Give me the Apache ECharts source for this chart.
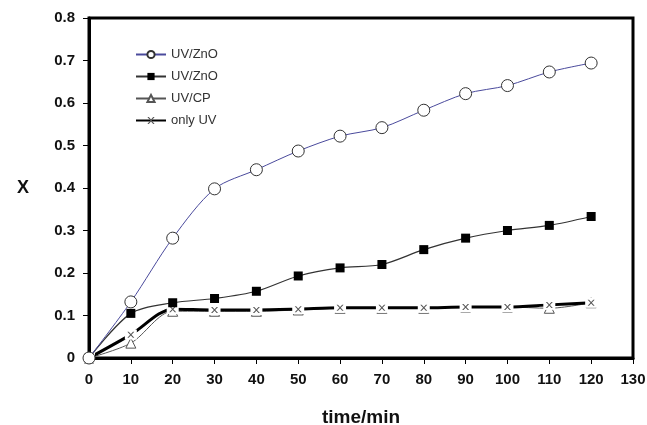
<!DOCTYPE html>
<html lang="en">
<head>
    <meta charset="UTF-8">
    <title>X vs time</title>
    <script src="https://cdn.jsdelivr.net/npm/echarts@6.0.0/dist/echarts.min.js"></script>
</head>
<body style="margin:0;background:#fff;">
    <div id="main" style="width:647px;height:425px;"></div>
    <script type="text/javascript">
        // data
        const times = [0, 10, 20, 30, 40, 50, 60, 70, 80, 90, 100, 110, 120];
        const uvZnoOpen = [0, 0.132, 0.282, 0.398, 0.443, 0.487, 0.522, 0.542, 0.583, 0.622, 0.641, 0.673, 0.694];
        const uvZnoFilled = [0, 0.105, 0.130, 0.140, 0.157, 0.193, 0.212, 0.220, 0.255, 0.282, 0.300, 0.312, 0.333];
        const uvCp = [0, 0.035, 0.110, 0.110, 0.110, 0.113, 0.117, 0.117, 0.117, 0.120, 0.120, 0.117, 0.130];
        const onlyUv = [0, 0.055, 0.115, 0.113, 0.113, 0.115, 0.118, 0.118, 0.118, 0.120, 0.120, 0.125, 0.130];
        const yTicks = [0, 0.1, 0.2, 0.3, 0.4, 0.5, 0.6, 0.7, 0.8];

        const pairs = (ys) => times.map((t, i) => [t, ys[i]]);
        const crossPath = 'path://M0,0L2,0L5,3L8,0L10,0L6,4L10,8L8,8L5,5L2,8L0,8L4,4Z';
        const font = 'Liberation Sans, Arial, sans-serif';

        let options = {
            animation: false,
            backgroundColor: '#fff',
            grid: {
                left: 89, right: 14, top: 18, bottom: 67, outerBoundsMode: 'none',
                show: true, borderColor: '#000', borderWidth: 3
            },
            legend: {
                orient: 'vertical',
                left: 130, top: 43,
                itemWidth: 30, itemHeight: 9, itemGap: 9,
                textStyle: { fontFamily: font, fontSize: 13, color: '#333' },
                data: ['UV/ZnO', 'UV/ZnO ', 'UV/CP', 'only UV']
            },
            xAxis: {
                type: 'value', min: 0, max: 130, interval: 10,
                name: 'time/min', nameLocation: 'middle', nameGap: 50,
                nameTextStyle: { fontFamily: font, fontSize: 19, fontWeight: 'bold', color: '#111' },
                axisLine: { lineStyle: { color: '#000', width: 3 } },
                axisTick: { inside: false, length: 6, lineStyle: { color: '#000', width: 1 } },
                axisLabel: { fontFamily: font, fontSize: 15, fontWeight: 'bold', color: '#111', margin: 14 },
                splitLine: { show: false }
            },
            yAxis: {
                type: 'value', min: yTicks[0], max: yTicks[yTicks.length - 1], interval: 0.1,
                name: 'X', nameLocation: 'middle', nameGap: 60, nameRotate: 0,
                nameTextStyle: { fontFamily: font, fontSize: 18, fontWeight: 'bold', color: '#111' },
                axisLine: { lineStyle: { color: '#000', width: 3 } },
                axisTick: { inside: false, length: 6, lineStyle: { color: '#000', width: 1 } },
                axisLabel: { fontFamily: font, fontSize: 15, fontWeight: 'bold', color: '#111', margin: 14 },
                splitLine: { show: false }
            },
            series: [
                {
                    name: 'UV/CP', type: 'line', smooth: 0.3, z: 2,
                    data: pairs(uvCp),
                    symbol: 'triangle', symbolSize: 10,
                    itemStyle: { color: '#fff', borderColor: '#555', borderWidth: 1 },
                    lineStyle: { color: '#555', width: 1 }
                },
                {
                    name: 'only UV', type: 'line', smooth: 0.3, z: 2,
                    data: pairs(onlyUv),
                    symbol: crossPath, symbolSize: [7, 6],
                    itemStyle: { color: '#555' },
                    lineStyle: { color: '#000', width: 3 }
                },
                {
                    // white boxes that break the thick line around the markers
                    name: 'box', type: 'line', z: 3,
                    data: pairs(onlyUv),
                    symbol: 'rect', symbolSize: [12, 10],
                    itemStyle: { color: '#fff', borderWidth: 0 },
                    lineStyle: { width: 0, opacity: 0 }
                },
                {
                    name: 'x', type: 'line', z: 4,
                    data: pairs(onlyUv),
                    symbol: crossPath, symbolSize: [7, 6],
                    itemStyle: { color: '#555' },
                    lineStyle: { width: 0, opacity: 0 }
                },
                {
                    name: 'UV/ZnO ', type: 'line', smooth: 0.3, z: 5,
                    data: pairs(uvZnoFilled),
                    symbol: 'rect', symbolSize: 9,
                    itemStyle: { color: '#000' },
                    lineStyle: { color: '#333', width: 1.2 }
                },
                {
                    name: 'UV/ZnO', type: 'line', smooth: 0.3, z: 6,
                    data: pairs(uvZnoOpen),
                    symbol: 'circle', symbolSize: 12,
                    itemStyle: { color: '#fff', borderColor: '#333', borderWidth: 1 },
                    lineStyle: { color: '#4a4a9c', width: 1 }
                }
            ]
        };

        let myChart = echarts.init(document.getElementById('main'));
        myChart.setOption(options);
    </script>
</body>
</html>
